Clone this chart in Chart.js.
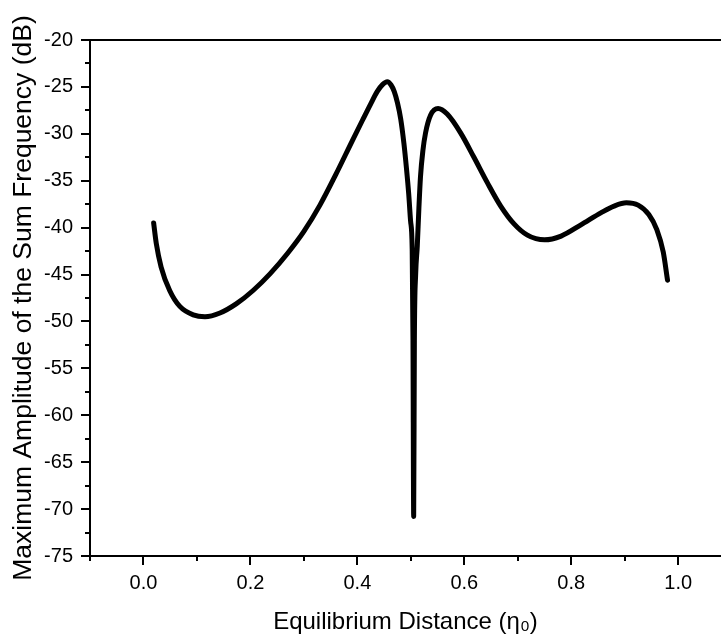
<!DOCTYPE html>
<html>
<head>
<meta charset="utf-8">
<script src="https://cdn.jsdelivr.net/npm/chart.js@4"></script>
<style>
  html, body { margin: 0; padding: 0; background: #fff; overflow: hidden; }
  #wrap { width: 721px; height: 640px; }
</style>
</head>
<body>
<div id="wrap"><canvas id="chart" width="721" height="640"></canvas></div>
<script>
// Valores
const eta = [0.019, 0.024, 0.033, 0.049, 0.068, 0.093, 0.115, 0.143, 0.174, 0.205,
  0.237, 0.27, 0.3, 0.33, 0.36, 0.39, 0.41, 0.425, 0.437, 0.447,
  0.456, 0.463, 0.469, 0.475, 0.481, 0.487, 0.492, 0.496, 0.4995, 0.5025,
  0.504, 0.5053, 0.5066, 0.509, 0.512, 0.515, 0.518, 0.5225, 0.5275, 0.537,
  0.551, 0.568, 0.593, 0.618, 0.643, 0.668, 0.693, 0.718, 0.75, 0.781,
  0.818, 0.856, 0.88, 0.903, 0.925, 0.945, 0.96, 0.972, 0.98];
const amplitude = [-39.5, -41.7, -44.2, -46.7, -48.4, -49.3, -49.5, -49.1, -48.1, -46.7,
  -44.9, -42.7, -40.4, -37.6, -34.3, -30.8, -28.5, -26.8, -25.5, -24.75,
  -24.45, -24.8, -25.5, -26.7, -28.4, -31.0, -33.8, -36.4, -39.3, -42.3,
  -52.0, -70.8, -52.0, -45.0, -42.0, -38.0, -34.6, -31.8, -29.9, -28.0,
  -27.3, -27.9, -29.9, -32.5, -35.2, -37.7, -39.6, -40.8, -41.3, -40.9,
  -39.7, -38.4, -37.7, -37.35, -37.6, -38.6, -40.2, -42.6, -45.6];
const xTicks = [0.0, 0.2, 0.4, 0.6, 0.8, 1.0];
const yTicks = [-20, -25, -30, -35, -40, -45, -50, -55, -60, -65, -70, -75];

const FONT = "'Liberation Sans', Arial, sans-serif";

// ticks maiores e menores desenhados para fora, mais a linha de cima
const axisTicks = {
  id: 'axisTicks',
  afterDraw(chart) {
    const { ctx, chartArea, scales: { x, y } } = chart;
    ctx.save();
    ctx.strokeStyle = '#000';
    ctx.lineWidth = 2;
    ctx.beginPath();
    ctx.moveTo(chartArea.left, chartArea.top);
    ctx.lineTo(chartArea.right, chartArea.top);

    const xMinor = [-0.1].concat(xTicks.map(v => v + 0.1).filter(v => v < x.max));
    xTicks.forEach(v => {
      const px = Math.round(x.getPixelForValue(v));
      ctx.moveTo(px, chartArea.bottom);
      ctx.lineTo(px, chartArea.bottom + 9);
    });
    xMinor.forEach(v => {
      const px = Math.round(x.getPixelForValue(v));
      ctx.moveTo(px, chartArea.bottom);
      ctx.lineTo(px, chartArea.bottom + 5);
    });

    yTicks.forEach(v => {
      const py = Math.round(y.getPixelForValue(v));
      ctx.moveTo(chartArea.left, py);
      ctx.lineTo(chartArea.left - 9, py);
    });
    yTicks.slice(1).forEach(v => {
      const py = Math.round(y.getPixelForValue(v + 2.5));
      ctx.moveTo(chartArea.left, py);
      ctx.lineTo(chartArea.left - 5, py);
    });
    ctx.stroke();
    ctx.restore();
  }
};

new Chart(document.getElementById('chart').getContext('2d'), {
  type: 'line',
  data: {
    datasets: [{
      data: eta.map((v, i) => ({ x: v, y: amplitude[i] })),
      borderColor: '#000',
      borderWidth: 5,
      pointRadius: 0,
      cubicInterpolationMode: 'monotone',
      borderCapStyle: 'round',
      borderJoinStyle: 'round',
      fill: false
    }]
  },
  options: {
    responsive: false,
    animation: false,
    layout: { padding: { top: 40, right: 0, left: 0, bottom: 0 } },
    plugins: {
      legend: { display: false },
      tooltip: { enabled: false }
    },
    scales: {
      x: {
        type: 'linear',
        min: -0.1,
        max: 1.08,
        afterBuildTicks: scale => { scale.ticks = xTicks.map(v => ({ value: v })); },
        afterFit: scale => { scale.height = 84; },
        grid: { display: false, drawTicks: false },
        border: { display: true, color: '#000', width: 2 },
        ticks: {
          color: '#000',
          padding: 15,
          maxRotation: 0,
          font: { family: FONT, size: 20 },
          callback: v => Number(v).toFixed(1)
        },
        title: {
          display: true,
          text: 'Equilibrium Distance (η₀)',
          color: '#000',
          padding: { top: 0, bottom: 3 },
          font: { family: FONT, size: 24 }
        }
      },
      y: {
        min: -75,
        max: -20,
        afterBuildTicks: scale => { scale.ticks = yTicks.map(v => ({ value: v })); },
        afterFit: scale => { scale.width = 90; },
        grid: { display: false, drawTicks: false },
        border: { display: true, color: '#000', width: 2 },
        ticks: {
          color: '#000',
          padding: 17,
          font: { family: FONT, size: 20 }
        },
        title: {
          display: true,
          text: 'Maximum Amplitude of the Sum Frequency (dB)',
          color: '#000',
          padding: { top: 8, bottom: 0 },
          font: { family: FONT, size: 26.5 }
        }
      }
    }
  },
  plugins: [axisTicks]
});
</script>
</body>
</html>
